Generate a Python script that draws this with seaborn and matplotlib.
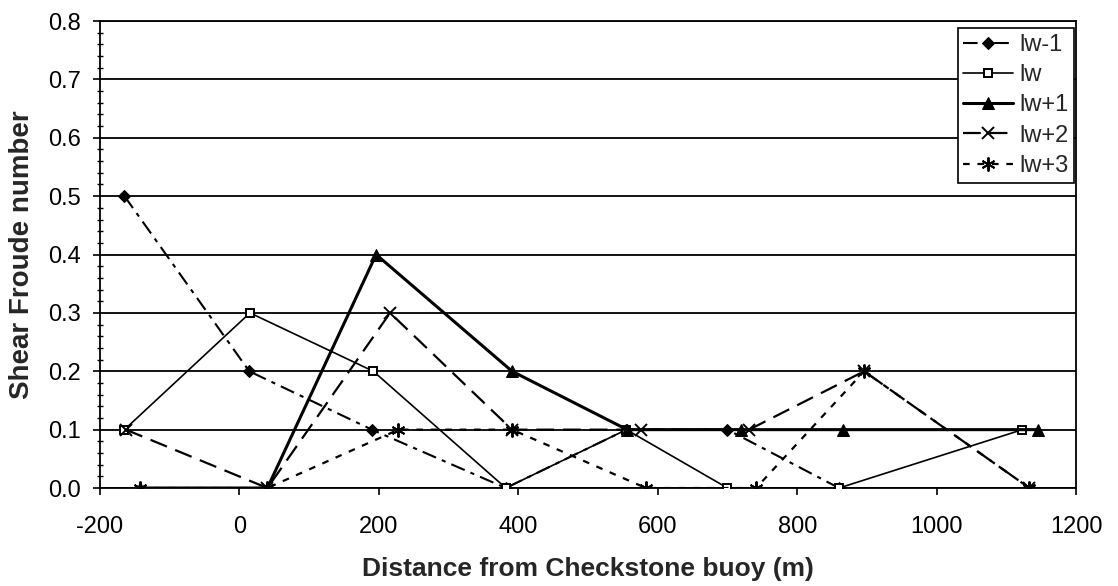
import matplotlib
matplotlib.use("Agg")
import matplotlib.pyplot as plt
from matplotlib.ticker import MultipleLocator, FormatStrFormatter
import numpy as np
import pandas as pd
import seaborn as sns

# Shear Froude number along the transect for each layer
x_lw_m1 = [-165, 14, 190, 382, 555, 700, 860]
y_lw_m1 = [0.5, 0.2, 0.1, 0.0, 0.1, 0.1, 0.0]

x_lw = [-165, 15, 192, 382, 555, 700, 860, 1123]
y_lw = [0.1, 0.3, 0.2, 0.0, 0.1, 0.0, 0.0, 0.1]

x_lw_p1 = [-143, 40, 196, 391, 556, 719, 865, 1145]
y_lw_p1 = [0.0, 0.0, 0.4, 0.2, 0.1, 0.1, 0.1, 0.1]

x_lw_p2 = [-163, 40, 216, 391, 576, 731, 896, 1133]
y_lw_p2 = [0.1, 0.0, 0.3, 0.1, 0.1, 0.1, 0.2, 0.0]

x_lw_p3 = [-143, 40, 228, 391, 583, 741, 896, 1133]
y_lw_p3 = [0.0, 0.0, 0.1, 0.1, 0.0, 0.0, 0.2, 0.0]

labels = ["lw-1", "lw", "lw+1", "lw+2", "lw+3"]

sns.set_style("ticks")
plt.rcParams["font.family"] = ["Liberation Sans", "DejaVu Sans"]
plt.rcParams["axes.unicode_minus"] = False

frames = []
for lab, xs, ys in zip(labels,
                       [x_lw_m1, x_lw, x_lw_p1, x_lw_p2, x_lw_p3],
                       [y_lw_m1, y_lw, y_lw_p1, y_lw_p2, y_lw_p3]):
    frames.append(pd.DataFrame({"distance": xs, "froude": ys, "layer": lab}))
df = pd.concat(frames, ignore_index=True)

styles = {
    "lw-1": dict(marker="D", markersize=6, markerfacecolor="black",
                 linewidth=1.5, linestyle=(0, (7, 3, 2, 3))),
    "lw": dict(marker="s", markersize=6, markerfacecolor="white",
               markeredgewidth=1.4, linewidth=1.2, linestyle="-"),
    "lw+1": dict(marker="^", markersize=8, markerfacecolor="black",
                 linewidth=2.2, linestyle="-"),
    "lw+2": dict(marker="x", markersize=9, markeredgewidth=1.4,
                 linewidth=1.6, linestyle=(0, (8, 4))),
    "lw+3": dict(marker=(6, 2, 0), markersize=10, markeredgewidth=1.4,
                 linewidth=1.6, linestyle=(0, (3, 3.5))),
}

fig = plt.figure(figsize=(11.18, 5.86), dpi=100)
ax = fig.add_axes([0.0895, 0.1672, 0.8730, 0.7969])

for lab in labels:
    sub = df[df["layer"] == lab]
    sns.lineplot(data=sub, x="distance", y="froude", ax=ax, sort=False,
                 color="black", markeredgecolor="black", label=lab,
                 zorder=3, **styles[lab])

ax.set_xlim(-200, 1200)
ax.set_ylim(0, 0.8)
ax.xaxis.set_major_locator(MultipleLocator(200))
ax.yaxis.set_major_locator(MultipleLocator(0.1))
ax.yaxis.set_minor_locator(MultipleLocator(0.02))
ax.yaxis.set_major_formatter(FormatStrFormatter("%.1f"))

ax.grid(axis="y", which="major", color="black", linewidth=1.3)
ax.grid(axis="x", visible=False)
ax.set_axisbelow(True)

for sp in ax.spines.values():
    sp.set_visible(True)
    sp.set_color("black")
    sp.set_linewidth(1.3)

ax.tick_params(axis="both", which="major", direction="out", length=5,
               width=1.2, color="black", labelsize=17, labelcolor="black")
ax.tick_params(axis="x", which="major", pad=15)
ax.tick_params(axis="y", which="major", pad=9)
ax.tick_params(axis="y", which="minor", direction="inout", length=5,
               width=1.0, color="black")
ax.tick_params(axis="x", which="minor", bottom=False)

ax.set_xlabel("Distance from Checkstone buoy (m)", fontsize=19,
              fontweight="bold", labelpad=14)
ax.set_ylabel("Shear Froude number", fontsize=20, fontweight="bold",
              labelpad=9)

leg = ax.legend(loc="upper right", bbox_to_anchor=(0.998, 0.985),
                borderaxespad=0, frameon=True, fancybox=False,
                edgecolor="black", framealpha=1, fontsize=17,
                handlelength=2.1, labelspacing=0.35, handletextpad=0.25,
                borderpad=0.25, numpoints=1)
leg.get_frame().set_linewidth(1.2)

fig.savefig("out.png", dpi=100, facecolor="white")
